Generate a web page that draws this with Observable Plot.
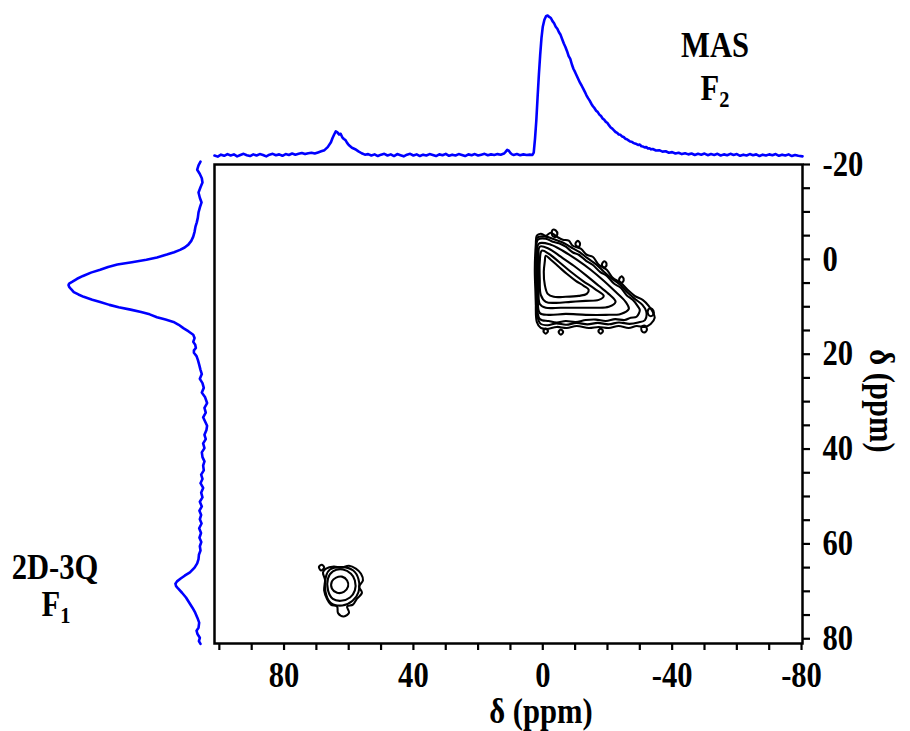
<!DOCTYPE html>
<html><head><meta charset="utf-8">
<script src="https://cdn.jsdelivr.net/npm/d3@7"></script>
<script src="https://cdn.jsdelivr.net/npm/@observablehq/plot@0.6"></script>
<style>
html,body{margin:0;padding:0;background:#fff;}
#wrap{position:relative;width:910px;height:731px;overflow:hidden;background:#fff;font-family:"Liberation Serif","Times New Roman",serif;font-weight:bold;color:#000;}
#wrap svg{position:absolute;left:0;top:0;}
.lbl{position:absolute;font-size:30px;line-height:24px;white-space:nowrap;transform:translateX(-50%) scale(1.02,1.17);}
.lbl sub{font-size:20px;vertical-align:-6px;line-height:0;}
</style></head><body>
<div id="wrap">
  <div class="lbl" style="left:715px;top:33px">MAS</div>
  <div class="lbl" style="left:715px;top:76px">F<sub>2</sub></div>
  <div class="lbl" style="left:55px;top:555px">2D-3Q</div>
  <div class="lbl" style="left:56px;top:592px">F<sub>1</sub></div>
  <div class="lbl" style="left:541px;top:699px">δ (ppm)</div>
  <div class="lbl" style="left:882px;top:401px;transform:translate(-50%,-50%) rotate(90deg) scale(1.02,1.17)">δ (ppm)</div>
</div>
<script>
// ---- axes ----
const xDomain = [101.5, -80.3];
const yDomain = [-20, 81];
const xTicks = [100, 90, 80, 70, 60, 50, 40, 30, 20, 10, 0, -10, -20, -30, -40, -50, -60, -70, -80];
const xTickLabels = [80, 40, 0, -40, -80];
const yTicks = [-20, -15, -10, -5, 0, 5, 10, 15, 20, 25, 30, 35, 40, 45, 50, 55, 60, 65, 70, 75, 80];
const yTickLabels = [-20, 0, 20, 40, 60, 80];

// ---- F2 (MAS) projection: ppm and relative intensity ----
const topPpm = [101.5,100.5,99.5,98.5,97.5,96.5,95.5,94.5,93.5,92.5,91.5,90.5,89.5,88.5,87.5,86.5,85.5,84.5,83.5,82.5,81.5,80.5,79.5,78.5,77.5,76.5,75.5,74.5,73.5,72.5,71.5,70.5,69.5,68.5,67.5,66.5,65.5,65.0,64.5,64.0,63.5,63.0,62.5,62.0,61.5,61.0,60.5,60.0,59.0,58.0,57.0,56.0,55.0,54.0,53.0,52.0,51.0,50.0,49.0,48.0,47.0,46.0,45.0,44.0,43.0,42.0,41.0,40.0,39.0,38.0,37.0,36.0,35.0,34.0,33.0,32.0,31.0,30.0,29.0,28.0,27.0,26.0,25.0,24.0,23.0,22.0,21.0,20.0,19.0,18.0,17.0,16.0,15.0,14.0,13.0,12.0,11.5,11.0,10.5,10.0,9.5,9.0,8.0,7.0,6.0,5.0,4.0,3.2,2.8,2.4,2.0,1.6,1.2,0.8,0.4,0.0,-0.5,-1.0,-1.5,-2.0,-2.5,-3.0,-3.5,-4.0,-4.5,-5.0,-5.5,-6.0,-6.5,-7.0,-7.5,-8.0,-8.5,-9.0,-9.5,-10.0,-10.5,-11.0,-11.5,-12.0,-12.5,-13.0,-13.5,-14.0,-14.5,-15.0,-15.5,-16.0,-16.5,-17.0,-17.5,-18.0,-18.5,-19.0,-19.5,-20.0,-20.5,-21.0,-21.5,-22.0,-22.5,-23.0,-23.5,-24.0,-24.5,-25.0,-25.5,-26.0,-26.5,-27.0,-27.5,-28.0,-28.5,-29.0,-29.5,-30.0,-30.5,-31.0,-31.5,-32.0,-32.5,-33.0,-33.5,-34.0,-35.0,-36.0,-37.0,-38.0,-39.0,-40.0,-41.0,-42.0,-43.0,-44.0,-45.0,-46.0,-47.0,-48.0,-49.0,-50.0,-51.0,-52.0,-53.0,-54.0,-55.0,-56.0,-57.0,-58.0,-59.0,-60.0,-61.0,-62.0,-63.0,-64.0,-65.0,-66.0,-67.0,-68.0,-69.0,-70.0,-71.0,-72.0,-73.0,-74.0,-75.0,-76.0,-77.0,-78.0,-79.0,-80.3];
const topInt = [0.000,-0.008,0.006,-0.002,0.010,0.000,0.008,-0.006,0.004,0.012,0.002,-0.004,0.008,0.000,0.010,0.004,-0.006,0.006,0.012,0.002,0.008,-0.002,0.010,0.004,0.014,0.006,0.012,0.018,0.010,0.016,0.020,0.014,0.022,0.030,0.038,0.060,0.095,0.125,0.150,0.172,0.165,0.150,0.155,0.130,0.118,0.110,0.090,0.075,0.055,0.045,0.030,0.016,0.006,0.010,0.000,0.008,-0.004,0.006,0.012,0.000,0.008,-0.004,0.010,0.002,-0.006,0.006,0.012,0.000,0.008,-0.004,0.006,0.000,0.010,0.004,-0.004,0.008,0.002,0.012,-0.002,0.006,0.000,0.010,0.004,-0.004,0.008,0.002,0.010,0.000,0.006,0.012,0.002,0.008,0.004,0.010,0.006,0.014,0.026,0.040,0.034,0.018,0.008,0.004,0.010,0.002,0.008,0.004,0.006,0.004,0.020,0.120,0.250,0.420,0.580,0.720,0.840,0.920,0.970,0.995,1.000,0.990,0.982,0.960,0.945,0.920,0.905,0.880,0.862,0.830,0.800,0.775,0.745,0.710,0.690,0.650,0.618,0.595,0.570,0.545,0.520,0.500,0.478,0.455,0.430,0.410,0.392,0.370,0.352,0.338,0.320,0.310,0.292,0.282,0.265,0.255,0.240,0.232,0.215,0.200,0.192,0.180,0.168,0.162,0.150,0.148,0.136,0.132,0.120,0.116,0.108,0.100,0.098,0.090,0.085,0.082,0.075,0.078,0.066,0.064,0.058,0.060,0.050,0.052,0.044,0.046,0.036,0.038,0.028,0.030,0.020,0.024,0.014,0.020,0.010,0.016,0.008,0.014,0.004,0.012,0.006,0.014,0.002,0.010,0.004,0.012,0.000,0.008,0.002,0.012,0.004,0.010,-0.002,0.006,0.000,0.010,0.002,0.008,-0.004,0.006,0.000,0.008,0.002,0.010,-0.002,0.006,0.000,0.008,-0.004,0.004,-0.002,-0.006];

// ---- F1 (3Q) projection: ppm and relative intensity ----
const leftPpm = [-20.6,-19.8,-18.9,-18.0,-17.1,-16.2,-15.2,-14.1,-13.0,-12.0,-11.0,-9.9,-8.8,-7.8,-6.9,-5.8,-4.8,-3.9,-3.1,-2.5,-2.0,-1.5,-1.0,-0.4,0.1,0.6,1.1,1.6,2.2,2.8,3.5,4.1,4.7,5.1,5.4,5.8,6.3,6.9,7.4,7.9,8.5,9.0,9.6,10.1,10.6,11.1,11.6,12.2,12.7,13.2,13.8,14.5,15.2,15.9,16.6,17.4,18.0,18.7,19.2,19.7,20.4,21.2,22.2,23.3,24.2,25.2,26.1,27.1,28.1,29.1,30.3,31.3,32.3,33.3,34.2,35.1,36.0,37.0,37.9,38.8,39.8,40.7,41.7,42.6,43.5,44.5,45.4,46.3,47.2,48.2,49.2,50.2,51.1,52.1,53.0,53.9,54.8,55.7,56.7,57.7,58.7,59.6,60.5,61.4,62.3,63.2,64.1,65.0,66.0,66.7,67.3,67.9,68.4,68.9,69.4,70.3,71.3,72.4,73.5,74.5,75.6,76.6,77.7,78.3,79.0,79.8,80.5,81.1];
const leftInt = [0.000,0.015,0.025,0.005,-0.010,-0.015,0.000,0.015,0.005,-0.008,0.004,0.015,0.020,0.028,0.038,0.045,0.055,0.070,0.092,0.120,0.155,0.200,0.255,0.330,0.410,0.520,0.630,0.700,0.760,0.830,0.890,0.935,0.970,0.995,1.000,0.995,0.980,0.960,0.925,0.885,0.820,0.760,0.690,0.620,0.530,0.450,0.385,0.330,0.265,0.205,0.165,0.130,0.090,0.055,0.045,0.055,0.040,0.035,0.050,0.050,0.030,0.020,0.010,0.000,-0.010,0.005,-0.015,-0.025,-0.010,-0.035,-0.050,-0.030,-0.040,-0.020,-0.035,-0.050,-0.045,-0.030,-0.040,-0.020,-0.030,-0.010,-0.015,-0.030,-0.020,-0.025,-0.005,-0.015,0.000,-0.020,-0.005,-0.015,0.005,-0.010,0.008,-0.005,0.005,-0.008,0.010,-0.004,0.008,-0.006,0.005,0.000,0.012,0.015,0.025,0.045,0.080,0.120,0.150,0.178,0.190,0.185,0.170,0.140,0.110,0.085,0.060,0.040,0.023,0.010,0.015,0.030,0.023,0.005,0.012,0.000];

// ---- 2D contours, [F2 ppm, F1 ppm] vertices ----
const mainC1 = [[-0.93,-0.76],[-2.47,0.08],[-4.94,1.56],[-7.41,3.04],[-10.2,4.52],[-12.66,5.58],[-14.2,6.43],[-13.6,7.27],[-11.1,7.7],[-7.1,7.9],[-3.4,7.9],[-1.54,7.27],[-0.62,5.37],[-0.31,2.62],[-0.62,0.5]];
const mainC2 = [[0.31,-1.82],[-1.85,-1.18],[-4.94,0.5],[-8.65,2.62],[-12.36,4.52],[-16.06,6.22],[-18.84,7.7],[-17.3,8.54],[-13.28,8.75],[-8.65,8.96],[-4.0,9.18],[-0.93,8.96],[0.62,7.48],[0.93,4.31],[0.93,0.5]];
const mainC3 = [[0.93,-2.66],[-1.85,-2.24],[-5.56,-0.55],[-9.58,1.35],[-13.59,3.47],[-17.3,5.58],[-20.7,7.48],[-22.5,8.96],[-20.4,10.0],[-16.4,10.2],[-11.1,10.2],[-5.56,10.2],[-0.93,10.2],[0.93,9.4],[1.24,5.37],[1.24,0.5]];
const mainC4 = [[1.24,-3.3],[-2.47,-3.1],[-6.18,-1.82],[-10.5,0.08],[-14.8,2.2],[-18.84,4.52],[-22.5,6.85],[-25.6,8.96],[-26.6,10.44],[-24.1,11.5],[-19.5,11.7],[-13.3,11.7],[-7.1,11.5],[-1.85,11.7],[0.93,11.3],[1.54,7.48],[1.54,1.14]];
const mainC5 = [[1.54,-4.14],[-0.93,-4.36],[-3.09,-3.72],[-5.0,-3.4],[-7.1,-2.66],[-9.2,-1.5],[-11.1,-0.97],[-13.4,0.3],[-15.4,1.14],[-17.8,2.7],[-19.8,3.47],[-22.0,5.1],[-24.1,6.0],[-26.0,7.6],[-27.8,8.54],[-29.4,9.9],[-30.0,10.66],[-29.0,12.1],[-27.2,12.3],[-25.3,12.8],[-22.4,12.6],[-19.5,13.0],[-16.4,12.7],[-13.3,12.8],[-10.2,13.2],[-7.1,13.0],[-4.3,13.3],[-1.85,13.0],[0.93,12.56],[1.85,8.54],[1.85,1.14]];
const mainC6 = [[1.7,-4.6],[-0.9,-4.8],[-3.3,-4.3],[-6.0,-3.6],[-8.6,-2.6],[-11.4,-1.5],[-13.7,-0.3],[-16.4,1.0],[-18.9,2.6],[-21.3,4.0],[-23.8,5.3],[-26.2,7.0],[-28.6,8.4],[-30.8,9.6],[-32.0,11.0],[-31.6,12.8],[-29.5,13.3],[-26.8,13.6],[-23.5,13.3],[-20.4,13.7],[-17.0,13.4],[-13.8,13.7],[-10.4,13.4],[-7.2,13.8],[-4.2,13.5],[-1.5,13.9],[0.8,13.5],[2.0,10.5],[2.0,4.0],[2.0,-1.5]];
const mainC7 = [[1.85,-4.99],[0.62,-5.41],[-0.93,-4.99],[-2.47,-5.62],[-4.32,-4.78],[-6.18,-4.14],[-8.03,-3.93],[-9.27,-2.87],[-11.74,-2.24],[-13.59,-0.97],[-15.44,-0.55],[-17.30,1.14],[-19.77,2.2],[-21.62,3.89],[-24.09,4.95],[-26.56,6.64],[-28.42,7.7],[-30.89,8.54],[-32.74,9.81],[-33.98,11.08],[-34.59,12.35],[-33.36,13.62],[-31.51,14.25],[-29.03,14.04],[-26.56,14.46],[-23.47,14.04],[-20.39,14.46],[-17.30,14.25],[-14.21,14.46],[-10.50,14.04],[-7.41,14.46],[-4.32,14.25],[-1.24,14.67],[0.62,14.46],[1.85,13.19],[2.16,8.54],[2.47,2.2],[2.16,-3.09]];
const mainBlobA = [[-32.6,10.6],[-33.4,10.3],[-34.2,10.8],[-34.2,11.6],[-33.4,12.0],[-32.6,11.6]];
const mainBlobB = [[-3.0,-6.2],[-4.0,-6.1],[-4.5,-5.3],[-3.9,-4.7],[-2.9,-5.1]];
const mainBlobC = [[-30.6,14.2],[-31.6,14.0],[-32.2,14.8],[-31.5,15.4],[-30.6,15.1]];
const mainBlobD = [[-10.1,-3.3],[-10.8,-3.9],[-11.5,-3.4],[-11.2,-2.7],[-10.4,-2.8]];
const mainBlobE = [[-18.3,1.0],[-19.0,0.4],[-19.7,0.9],[-19.4,1.6],[-18.6,1.6]];
const mainBlobF = [[-23.6,4.2],[-24.3,3.6],[-25.0,4.1],[-24.7,4.8],[-23.9,4.8]];
const mainBlobG = [[-4.9,15.3],[-5.6,14.8],[-6.3,15.3],[-5.6,15.9]];
const mainBlobH = [[-17.2,15.1],[-17.9,14.6],[-18.6,15.1],[-17.9,15.7]];
const mainBlobI = [[-0.2,15.1],[-0.9,14.6],[-1.6,15.1],[-0.9,15.7]];
const smallC1 = [[63.9,67.1],[62.1,66.9],[60.5,67.7],[60.2,69.0],[61.5,70.1],[63.6,70.3],[65.2,69.4],[65.2,67.9]];
const smallC2 = [[64.9,65.8],[61.8,65.4],[59.3,66.3],[58.1,67.7],[58.1,69.8],[59.6,71.3],[62.4,72.0],[64.9,71.6],[66.4,69.8],[66.4,67.3]];
const smallC3 = [[65.8,65.4],[62.0,64.9],[58.6,65.6],[57.0,67.4],[57.0,70.2],[58.8,72.0],[62.0,73.0],[65.6,72.4],[67.2,70.0],[67.0,66.8]];
const smallC4 = [[67.0,65.2],[64.6,64.8],[62.4,65.0],[59.9,64.6],[57.8,65.2],[56.2,66.3],[55.6,67.7],[56.8,69.0],[55.9,70.3],[57.5,71.6],[58.7,72.8],[60.5,73.2],[59.9,74.5],[61.5,75.3],[63.3,74.6],[63.6,73.2],[65.5,72.8],[66.7,71.6],[67.6,69.8],[67.3,67.7],[67.95,66.0]];
const smallDot = [[69.2,64.8],[68.3,64.4],[67.6,65.0],[68.6,65.6]];

const contourList = [mainC1, mainC2, mainC3, mainC4, mainC5, mainC6, mainC7, mainBlobA, mainBlobB, mainBlobC, mainBlobD, mainBlobE, mainBlobF, mainBlobG, mainBlobH, mainBlobI, smallC1, smallC2, smallC3, smallC4, smallDot];
const contourRows = contourList.flatMap((pts, i) => pts.map(([x, y]) => ({id: i, x, y})));
const topRows = topPpm.map((p, i) => ({ppm: p, v: topInt[i]}));
const leftRows = leftPpm.map((p, i) => ({ppm: p, v: leftInt[i]}));

const baseStyle = {background: "transparent", overflow: "visible", fontFamily: "'Liberation Serif','Times New Roman',serif", fontWeight: "bold", fontSize: "30px", color: "black"};
const wrap = document.getElementById("wrap");

// Top projection
const topPlot = Plot.plot({
  width: 910, height: 164,
  marginLeft: 214, marginRight: 108, marginTop: 15, marginBottom: 9,
  x: {domain: xDomain, axis: null},
  y: {domain: [0, 1], axis: null},
  style: baseStyle,
  marks: [Plot.line(topRows, {x: "ppm", y: "v", stroke: "#0000ff", strokeWidth: 2.6})]
});
wrap.appendChild(topPlot);

// Left projection
const leftPlot = Plot.plot({
  width: 214, height: 731,
  marginLeft: 68, marginRight: 14, marginTop: 164, marginBottom: 88,
  x: {domain: [0, 1], reverse: true, axis: null},
  y: {domain: yDomain, reverse: true, axis: null},
  style: baseStyle,
  marks: [Plot.line(leftRows, {x: "v", y: "ppm", stroke: "#0000ff", strokeWidth: 2.6})]
});
wrap.appendChild(leftPlot);

// Main 2D plot
const mainPlot = Plot.plot({
  width: 910, height: 731,
  marginLeft: 214, marginRight: 108, marginTop: 164, marginBottom: 88,
  x: {domain: xDomain},
  y: {domain: yDomain, reverse: true},
  style: baseStyle,
  marks: [
    Plot.line(contourRows, {x: "x", y: "y", z: "id", curve: "catmull-rom-closed", stroke: "black", strokeWidth: 2.1}),
    Plot.frame({stroke: "black", strokeWidth: 2.5}),
    Plot.axisX({ticks: xTicks, tickSize: 7, tickPadding: 12, strokeWidth: 2.2, label: null,
      tickFormat: d => xTickLabels.includes(d) ? String(d) : "", fontSize: 30, fontWeight: "bold"}),
    Plot.axisY({anchor: "right", ticks: yTicks, tickSize: 7, tickPadding: 13, strokeWidth: 2.2, label: null,
      tickFormat: d => yTickLabels.includes(d) ? String(d) : "", fontSize: 30, fontWeight: "bold"})
  ]
});
// the reference's lettering is slightly taller than the font's natural proportions
mainPlot.querySelectorAll("text").forEach(t => {
  const tr = t.getAttribute("transform") || "";
  t.setAttribute("transform", tr + " scale(1.02,1.17)");
});
wrap.appendChild(mainPlot);
</script>
</body></html>
